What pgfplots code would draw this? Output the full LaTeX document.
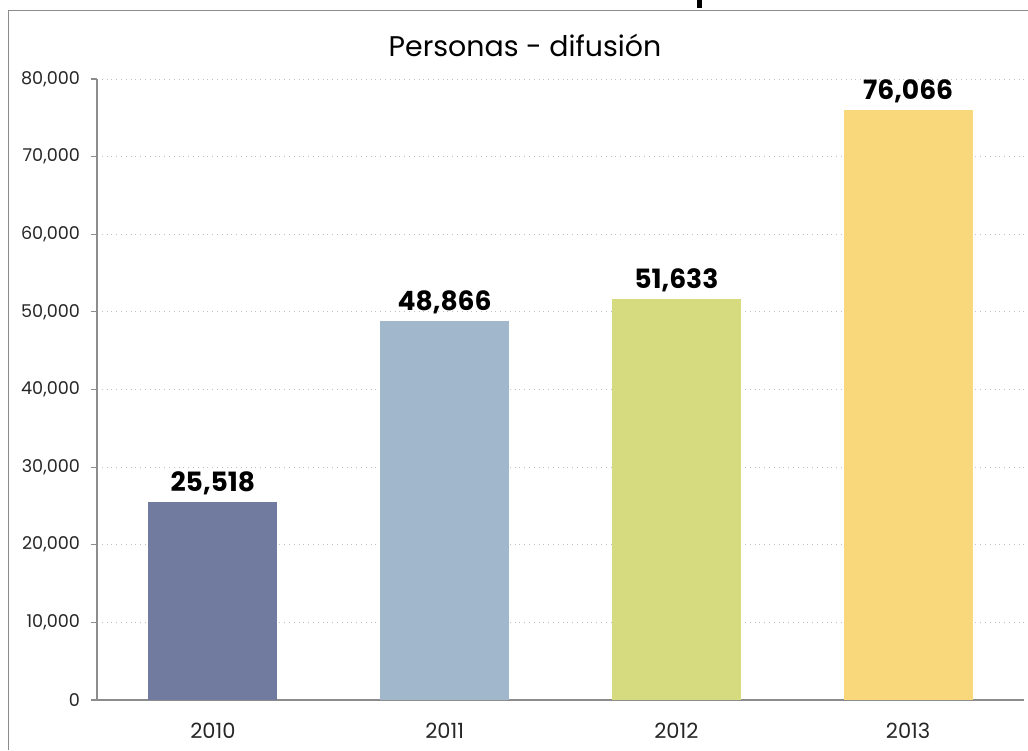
\documentclass[border=0pt]{standalone}
\usepackage{fontspec}
\setmainfont{Poppins}
\usepackage{pgfplots}
\pgfplotsset{compat=1.18}
\definecolor{c10}{HTML}{717BA0}
\definecolor{c11}{HTML}{A1B7CB}
\definecolor{c12}{HTML}{D5DB7E}
\definecolor{c13}{HTML}{F9D87B}
\definecolor{axgray}{HTML}{8C8C8C}
\begin{document}
\begin{tikzpicture}
% 1 px of the 1028x750 reference = 0.5pt
\useasboundingbox (0pt,0pt) rectangle (514pt,375pt);
% outer chart frame (top and left edges visible)
\draw[axgray, line width=0.5pt] (4pt,0pt) -- (4pt,369.5pt) -- (514pt,369.5pt);
% clipped remains of a title above the frame
\fill[black] (348.5pt,371pt) rectangle (351pt,375pt);
\node[font=\fontsize{14.2}{17}\selectfont] at (262.5pt,352.5pt) {Personas - difusión};
\begin{axis}[
  at={(48.5pt,25pt)}, anchor=south west,
  scale only axis, width=463.5pt, height=310.5pt,
  ybar, bar width=0.557, bar shift=0pt,
  xmin=-0.5, xmax=3.5, ymin=0, ymax=80000,
  xtick={0,1,2,3}, xticklabels={2010,2011,2012,2013},
  extra x ticks={0.5,1.5,2.5,3.5}, extra x tick labels={},
  extra x tick style={major tick length=3pt, tick style={axgray, line width=0.6pt}, grid=none},
  major x tick style={draw=none},
  ytick={0,10000,...,80000},
  scaled y ticks=false,
  /pgf/number format/assume math mode=true,
  yticklabel style={font=\fontsize{8.8}{10}\selectfont, text=black!85, xshift=-2pt,
    /pgf/number format/fixed, /pgf/number format/1000 sep={,}},
  xticklabel style={font=\fontsize{10.5}{12}\selectfont, text=black!85, yshift=-5pt},
  ymajorgrids, grid style={black!25, dotted, line width=0.4pt},
  axis x line*=bottom, axis y line*=left,
  axis line style={axgray, line width=0.6pt, -},
  y tick style={axgray, line width=0.6pt},
  tick align=outside, major tick length=3pt,
  nodes near coords,
  every node near coord/.append style={font=\bfseries\fontsize{13.3}{15}\selectfont, text=black,
    /pgf/number format/fixed, /pgf/number format/1000 sep={,}, /pgf/number format/assume math mode=true},
]
\addplot[fill=c10, draw=none] coordinates {(0,25518)};
\addplot[fill=c11, draw=none] coordinates {(1,48866)};
\addplot[fill=c12, draw=none] coordinates {(2,51633)};
\addplot[fill=c13, draw=none] coordinates {(3,76066)};
\end{axis}
\end{tikzpicture}
\end{document}
